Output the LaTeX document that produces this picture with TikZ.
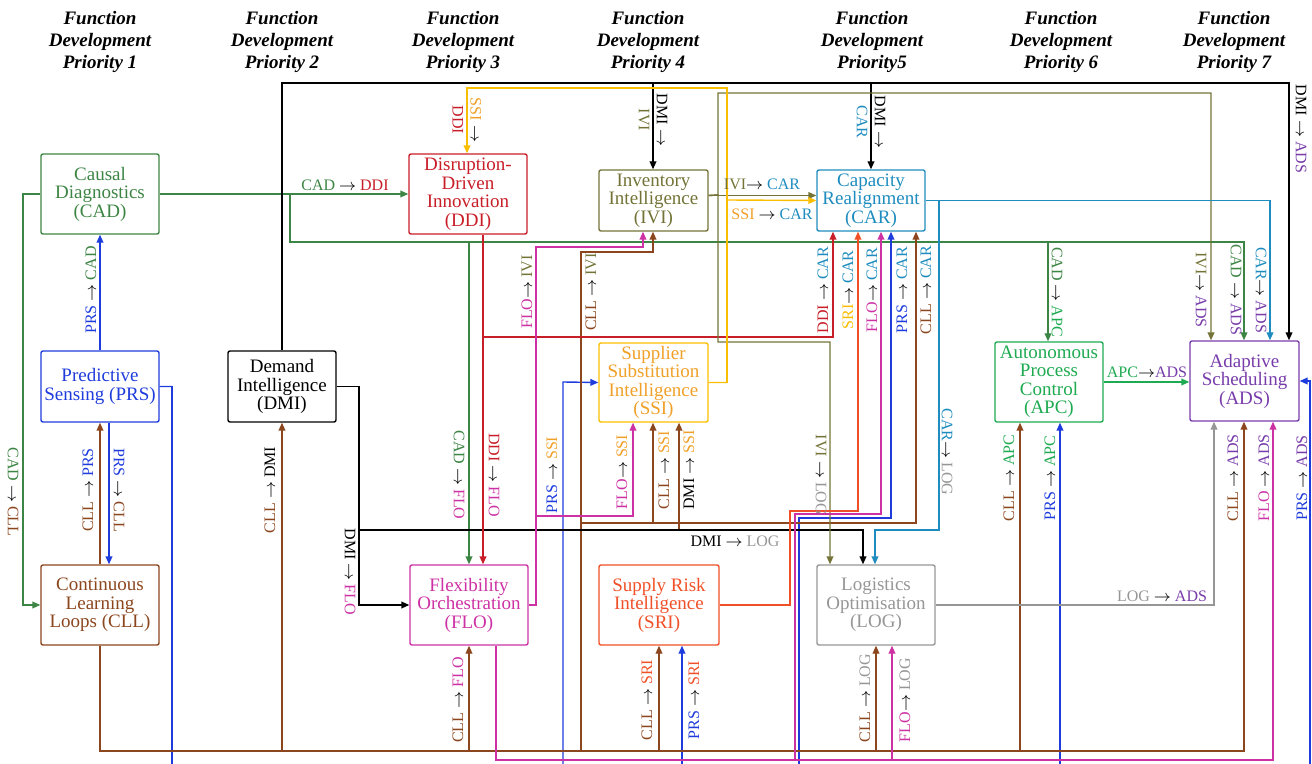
\documentclass[tikz,border=0pt]{standalone}
\usepackage{fontspec}
\setmainfont{Liberation Serif}
\usetikzlibrary{arrows.meta}

\definecolor{cadc}{RGB}{61,133,68}
\definecolor{prsc}{RGB}{30,60,220}
\definecolor{cllc}{RGB}{140,70,30}
\definecolor{dmic}{RGB}{0,0,0}
\definecolor{ddic}{RGB}{200,30,40}
\definecolor{ivic}{RGB}{115,115,55}
\definecolor{carc}{RGB}{30,140,190}
\definecolor{ssic}{RGB}{240,160,40}
\definecolor{ssil}{RGB}{250,190,0}
\definecolor{floc}{RGB}{205,50,165}
\definecolor{sric}{RGB}{240,80,40}
\definecolor{logc}{RGB}{150,150,150}
\definecolor{apcc}{RGB}{30,170,80}
\definecolor{adsc}{RGB}{120,60,170}

\newcommand{\ar}{$\rightarrow$}
\newcommand{\rel}[4]{\textcolor{#1}{#2} \ar{} \textcolor{#3}{#4}}

\tikzset{
  box/.style={draw=#1, text=#1, rounded corners=1pt, line width=0.7pt, align=center,
    inner sep=1pt, font=\fontsize{9.5}{9.25}\selectfont},
  lab/.style={inner sep=0.5pt, align=center, font=\fontsize{8}{9}\selectfont},
  ttl/.style={align=center, font=\fontsize{9.5}{11}\selectfont\bfseries\itshape},
  conn/.style={line width=0.7pt, -{Triangle[length=4pt,width=3.4pt]}},
}

\begin{document}
\begin{tikzpicture}[x=0.5pt,y=-0.5pt]
\useasboundingbox (0,0) rectangle (1312,764);

\node[ttl] (t1) at (100,42) {Function\\Development\\Priority 1};
\node[ttl] (t2) at (282,42) {Function\\Development\\Priority 2};
\node[ttl] (t3) at (463,42) {Function\\Development\\Priority 3};
\node[ttl] (t4) at (648,42) {Function\\Development\\Priority 4};
\node[ttl] (t5) at (872,42) {Function\\Development\\Priority5};
\node[ttl] (t6) at (1061,42) {Function\\Development\\Priority 6};
\node[ttl] (t7) at (1234,42) {Function\\Development\\Priority 7};

\node[box=cadc, minimum width=59pt, minimum height=40pt] (CAD) at (100,194) {Causal\\Diagnostics\\(CAD)};
\node[box=prsc, minimum width=59pt, minimum height=35.5pt] (PRS) at (100,386.5) {Predictive\\Sensing (PRS)};
\node[box=cllc, minimum width=59pt, minimum height=40pt] (CLL) at (100,605) {Continuous\\Learning\\Loops (CLL)};
\node[box=dmic, minimum width=54pt, minimum height=35.5pt] (DMI) at (282,386.5) {Demand\\Intelligence\\(DMI)};
\node[box=ddic, minimum width=59pt, minimum height=40pt] (DDI) at (468,194) {Disruption-\\Driven\\Innovation\\(DDI)};
\node[box=ivic, minimum width=54.5pt, minimum height=30.5pt] (IVI) at (653.5,200.5) {Inventory\\Intelligence\\(IVI)};
\node[box=carc, minimum width=54pt, minimum height=30.5pt] (CAR) at (871,200.5) {Capacity\\Realignment\\(CAR)};
\node[box=ssic, draw=ssil, minimum width=54.5pt, minimum height=39.5pt] (SSI) at (653.5,382.5) {Supplier\\Substitution\\Intelligence\\(SSI)};
\node[box=floc, minimum width=59pt, minimum height=40pt] (FLO) at (469,605) {Flexibility\\Orchestration\\(FLO)};
\node[box=sric, minimum width=60pt, minimum height=40pt] (SRI) at (659,605) {Supply Risk\\Intelligence\\(SRI)};
\node[box=logc, minimum width=59pt, minimum height=40pt] (LOG) at (876,605) {Logistics\\Optimisation\\(LOG)};
\node[box=apcc, minimum width=54pt, minimum height=40pt] (APC) at (1049,382) {Autonomous\\Process\\Control\\(APC)};
\node[box=adsc, minimum width=54.5pt, minimum height=40pt] (ADS) at (1244.5,381) {Adaptive\\Scheduling\\(ADS)};

\draw[conn, cllc] (DMI.east) -| (359,530) -| (679,0 |- SSI.south);
\draw[conn, cadc] (CAD.east) -- (DDI.west);
\draw[conn, cadc] (CAD.west) -- (23,194) |- (CLL.west);
\draw[conn, cadc] (CAD.east) -- (290,194) |- (469,242) -- (469,0 |- FLO.north);
\draw[conn, cadc] (CAD.east) -- (290,194) |- (1048,242) -- (1048,0 |- APC.north);
\draw[conn, cadc] (CAD.east) -- (290,194) |- (1244,242) -- (1244,0 |- ADS.north);
\draw[conn, prsc] (PRS.north) -- (CAD.south);
\draw[conn, prsc] (109,0 |- PRS.south) -- (109,0 |- CLL.north);
\draw[conn, prsc] (PRS.east) -| (172,768) -| (563,382) -- (SSI.west);
\draw[conn, prsc] (PRS.east) -| (172,768) -| (682,0 |- SRI.south);
\draw[conn, prsc] (PRS.east) -| (172,768) -| (799,518) -| (891,0 |- CAR.south);
\draw[conn, prsc] (PRS.east) -| (172,768) -| (1060,0 |- APC.south);
\draw[conn, prsc] (PRS.east) -| (172,768) -| (1310,381) -- (ADS.east);
\draw[conn, cllc] (CLL.north) -- (PRS.south);
\draw[conn, cllc] (CLL.south) |- (282,751) -- (DMI.south);
\draw[conn, cllc] (CLL.south) |- (469,751) -- (469,0 |- FLO.south);
\draw[conn, cllc] (CLL.south) |- (581,751) -- (581,252) -| (653,0 |- IVI.south);
\draw[conn, cllc] (CLL.south) |- (581,751) -- (581,523) -| (653,0 |- SSI.south);
\draw[conn, cllc] (CLL.south) |- (581,751) -- (581,523) -| (916,0 |- CAR.south);
\draw[conn, cllc] (CLL.south) |- (659,751) -- (659,0 |- SRI.south);
\draw[conn, cllc] (CLL.south) |- (876,751) -- (876,0 |- LOG.south);
\draw[conn, cllc] (CLL.south) |- (1020,751) -- (1020,0 |- APC.south);
\draw[conn, cllc] (CLL.south) |- (1244,751) -- (1244,0 |- ADS.south);
\draw[conn, dmic] (DMI.north) |- (653,83) -- (653,0 |- IVI.north);
\draw[conn, dmic] (DMI.north) |- (871,83) -- (CAR.north);
\draw[conn, dmic] (DMI.north) |- (1289,83) -- (1289,0 |- ADS.north);
\draw[conn, dmic] (DMI.east) -| (359,530) |- (FLO.west);
\draw[conn, dmic] (DMI.east) -| (359,530) -| (863,0 |- LOG.north);
\draw[conn, ddic] (483,0 |- DDI.south) -- (483,0 |- FLO.north);
\draw[conn, ddic] (483,0 |- DDI.south) -- (483,337) -| (833,0 |- CAR.south);
\draw[conn, ivic] ([yshift=2.5pt]IVI.east) -- ([yshift=2.5pt]CAR.west);
\draw[conn, ivic] ([yshift=2.5pt]IVI.east) -- (718,195) |- (1211,93) -- (1211,0 |- ADS.north);
\draw[conn, ivic] ([yshift=2.5pt]IVI.east) -- (718,195) |- (830,342) -- (830,0 |- LOG.north);
\draw[conn, ssil] (SSI.east) -| (727,88) -| (467,0 |- DDI.north);
\draw[conn, ssil] (SSI.east) -| (727,200) -- (CAR.west);
\draw[conn, floc] (FLO.east) -| (536,247) -| (643,0 |- IVI.south);
\draw[conn, floc] (FLO.east) -| (536,516) -| (633,0 |- SSI.south);
\draw[conn, floc] (496,0 |- FLO.south) |- (795,760) -- (795,514) -| (881,0 |- CAR.south);
\draw[conn, floc] (496,0 |- FLO.south) |- (892,760) -- (892,0 |- LOG.south);
\draw[conn, floc] (496,0 |- FLO.south) |- (1273,760) -- (1273,0 |- ADS.south);
\draw[conn, sric] (SRI.east) -| (790,511) -| (858,0 |- CAR.south);
\draw[conn, carc] (CAR.east) -| (939,530) -| (875,0 |- LOG.north);
\draw[conn, carc] (CAR.east) -| (1270,0 |- ADS.north);
\draw[conn, apcc] (APC.east) -- (APC.east -| ADS.west);
\draw[conn, logc] (LOG.east) -| (1214,0 |- ADS.south);

\node[lab, rotate=90] (lPRSCAD) at (91,290) {\rel{prsc}{PRS}{cadc}{CAD}};
\node[lab, rotate=-90] (lCADCLL) at (13,492) {\rel{cadc}{CAD}{cllc}{CLL}};
\node[lab, rotate=90] (lCLLPRS) at (88,490) {\rel{cllc}{CLL}{prsc}{PRS}};
\node[lab, rotate=-90] (lPRSCLL) at (119,490) {\rel{prsc}{PRS}{cllc}{CLL}};
\node[lab, rotate=90] (lCLLDMI) at (270,490) {\rel{cllc}{CLL}{dmic}{DMI}};
\node[lab] (lCADDDI) at (345,185) {\rel{cadc}{CAD}{ddic}{DDI}};
\node[lab, rotate=-90] (lSSIDDI) at (467,120) {\textcolor{ssic}{SSI} \ar\\\textcolor{ddic}{DDI}};
\node[lab, rotate=-90] (lDMIIVI) at (653,120) {DMI \ar\\\textcolor{ivic}{IVI}};
\node[lab, rotate=-90] (lDMICAR) at (871,122) {DMI \ar\\\textcolor{carc}{CAR}};
\node[lab, rotate=-90] (lDMIADS) at (1301,129) {\rel{dmic}{DMI}{adsc}{ADS}};
\node[lab] (lIVICAR) at (762,184) {\textcolor{ivic}{IVI}\ar{} \textcolor{carc}{CAR}};
\node[lab] (lSSICAR) at (772,214) {\rel{ssic}{SSI}{carc}{CAR}};
\node[lab, rotate=-90] (lCADFLO) at (459,475) {\rel{cadc}{CAD}{floc}{FLO}};
\node[lab, rotate=-90] (lDDIFLO) at (494,475) {\rel{ddic}{DDI}{floc}{FLO}};
\node[lab, rotate=90] (lFLOIVI) at (527,292) {\textcolor{floc}{FLO}\ar{} \textcolor{ivic}{IVI}};
\node[lab, rotate=90] (lCLLIVI) at (591,292) {\rel{cllc}{CLL}{ivic}{IVI}};
\node[lab, rotate=90] (lPRSSSI) at (552,475) {\rel{prsc}{PRS}{ssic}{SSI}};
\node[lab, rotate=90] (lFLOSSI) at (622,472) {\textcolor{floc}{FLO}\ar{} \textcolor{ssic}{SSI}};
\node[lab, rotate=90] (lCLLSSI) at (664,470) {\rel{cllc}{CLL}{ssic}{SSI}};
\node[lab, rotate=90] (lDMISSI) at (689,470) {\rel{dmic}{DMI}{ssic}{SSI}};
\node[lab, rotate=90] (lDDICAR) at (823,290) {\rel{ddic}{DDI}{carc}{CAR}};
\node[lab, rotate=90] (lSRICAR) at (848,290) {\textcolor{ssil}{SRI}\ar{} \textcolor{carc}{CAR}};
\node[lab, rotate=90] (lFLOCAR) at (872,290) {\textcolor{floc}{FLO}\ar{} \textcolor{carc}{CAR}};
\node[lab, rotate=90] (lPRSCAR) at (902,290) {\rel{prsc}{PRS}{carc}{CAR}};
\node[lab, rotate=90] (lCLLCAR) at (926,290) {\rel{cllc}{CLL}{carc}{CAR}};
\node[lab, rotate=-90] (lIVILOG) at (821,475) {\rel{ivic}{IVI}{logc}{LOG}};
\node[lab, rotate=-90] (lCARLOG) at (947,452) {\textcolor{carc}{CAR}\ar{} \textcolor{logc}{LOG}};
\node[lab, rotate=-90] (lDMIFLO) at (350,572) {\rel{dmic}{DMI}{floc}{FLO}};
\node[lab] (lDMILOG) at (735,541) {\rel{dmic}{DMI}{logc}{LOG}};
\node[lab, rotate=90] (lCLLFLO) at (458,700) {\rel{cllc}{CLL}{floc}{FLO}};
\node[lab, rotate=90] (lCLLSRI) at (647,700) {\rel{cllc}{CLL}{sric}{SRI}};
\node[lab, rotate=90] (lPRSSRI) at (694,700) {\rel{prsc}{PRS}{sric}{SRI}};
\node[lab, rotate=90] (lCLLLOG) at (865,698) {\rel{cllc}{CLL}{logc}{LOG}};
\node[lab, rotate=90] (lFLOLOG) at (905,700) {\textcolor{floc}{FLO}\ar{} \textcolor{logc}{LOG}};
\node[lab, rotate=-90] (lCADAPC) at (1057,292) {\rel{cadc}{CAD}{apcc}{APC}};
\node[lab, rotate=90] (lCLLAPC) at (1009,478) {\rel{cllc}{CLL}{apcc}{APC}};
\node[lab, rotate=90] (lPRSAPC) at (1050,478) {\rel{prsc}{PRS}{apcc}{APC}};
\node[lab, rotate=-90] (lIVIADS) at (1201,290) {\textcolor{ivic}{IVI}\ar{} \textcolor{adsc}{ADS}};
\node[lab, rotate=-90] (lCADADS) at (1236,290) {\rel{cadc}{CAD}{adsc}{ADS}};
\node[lab, rotate=-90] (lCARADS) at (1261,290) {\textcolor{carc}{CAR}\ar{} \textcolor{adsc}{ADS}};
\node[lab] (lAPCADS) at (1147,372) {\textcolor{apcc}{APC}\ar\textcolor{adsc}{ADS}};
\node[lab, rotate=90] (lCLLADS) at (1233,478) {\rel{cllc}{CLL}{adsc}{ADS}};
\node[lab, rotate=90] (lFLOADS) at (1264,478) {\rel{floc}{FLO}{adsc}{ADS}};
\node[lab, rotate=90] (lPRSADS) at (1302,478) {\rel{prsc}{PRS}{adsc}{ADS}};
\node[lab] (lLOGADS) at (1162,596) {\rel{logc}{LOG}{adsc}{ADS}};
\end{tikzpicture}
\end{document}
